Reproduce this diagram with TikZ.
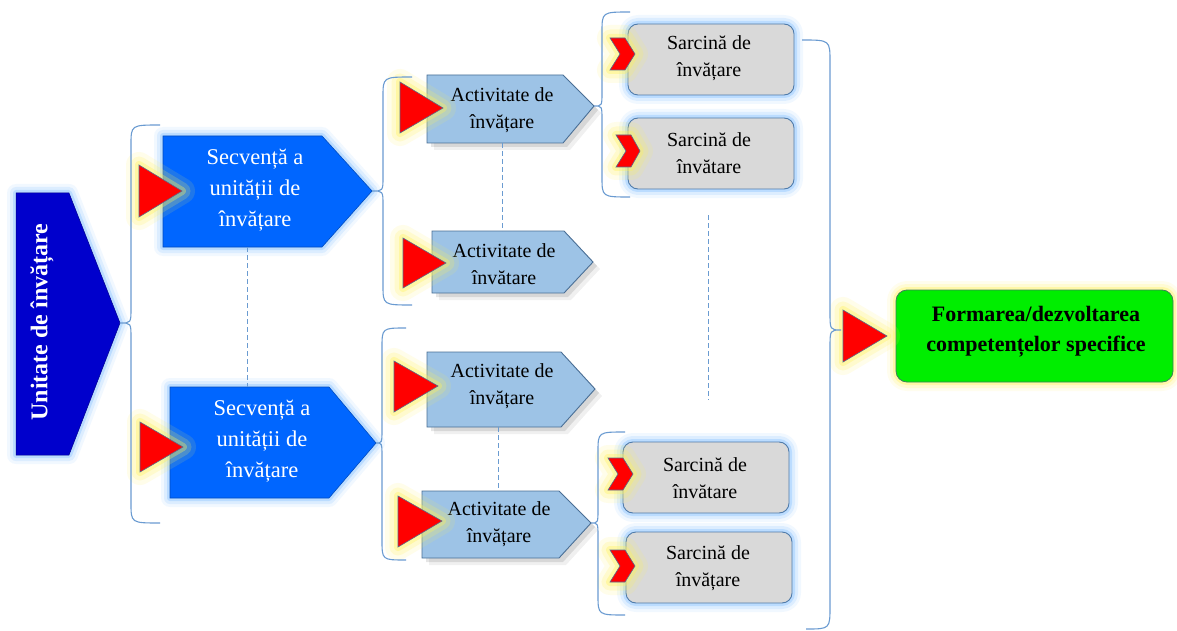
\documentclass[tikz,border=0pt]{standalone}
\usepackage{fontspec}
\setmainfont{Liberation Serif}
\definecolor{braceblue}{HTML}{6A9BD1}
\definecolor{glowblue}{HTML}{7FBFFF}
\definecolor{unitblue}{HTML}{0000CC}
\definecolor{secblue}{HTML}{0066FF}
\definecolor{actfill}{HTML}{9DC3E6}
\definecolor{actedge}{HTML}{4A6F96}
\definecolor{sarfill}{HTML}{D9D9D9}
\definecolor{saredge}{HTML}{4F7BAA}
\definecolor{formgreen}{HTML}{00EE00}
\definecolor{greenedge}{HTML}{3E7F5A}
\definecolor{triedge}{HTML}{5A6B8C}
\definecolor{glowyellow}{HTML}{FFF25A}
\begin{document}
\begin{tikzpicture}[x=1pt,y=-1pt,
  glow/.style={preaction={draw=#1,line width=18pt,opacity=0.10,line join=round},
               preaction={draw=#1,line width=12pt,opacity=0.18,line join=round},
               preaction={draw=#1,line width=6pt,opacity=0.35,line join=round}},
  yglow/.style={preaction={draw=#1,line width=26pt,opacity=0.12,line join=round},
               preaction={draw=#1,line width=17pt,opacity=0.20,line join=round},
               preaction={draw=#1,line width=8pt,opacity=0.35,line join=round}},
  shade/.style={preaction={fill=black,opacity=0.10,transform canvas={shift={(4pt,-4pt)}}},
                preaction={fill=black,opacity=0.06,transform canvas={shift={(7pt,-7pt)}}}},
  bracel/.style={draw=braceblue,line width=1.1pt},
  dashl/.style={draw=braceblue,line width=0.9pt,dash pattern=on 5pt off 3pt},
  redtri/.style={fill=red,draw=triedge,line width=0.6pt,line join=miter,yglow=glowyellow},
  unitbox/.style={fill=unitblue,draw=unitblue!70!black,line width=0.5pt,glow=glowblue},
  secbox/.style={fill=secblue,draw=secblue!75!black,line width=0.6pt,glow=glowblue},
  actbox/.style={fill=actfill,draw=actedge,line width=0.9pt,shade},
  sarbox/.style={fill=sarfill,draw=saredge,line width=0.9pt,rounded corners=10pt,glow=glowblue},
  formbox/.style={fill=formgreen,draw=greenedge,line width=0.8pt,rounded corners=11pt,glow=glowyellow},
  sectext/.style={text=white,align=center,font=\fontsize{22.5}{31}\selectfont},
  acttext/.style={text=black,align=center,font=\fontsize{20}{27}\selectfont},
  unittext/.style={text=white,rotate=90,font=\fontsize{24}{28}\selectfont\bfseries},
  formtext/.style={text=black,align=center,font=\fontsize{22}{30}\selectfont\bfseries}]
\fill[white] (0,0) rectangle (1177,631);
\useasboundingbox (0,0) rectangle (1177,631);

% ---------- coordinates (tips and ends) ----------
\coordinate (uTip) at (120,323);
\coordinate (s1Tip) at (372,191);
\coordinate (s2Tip) at (376,443);
\coordinate (a1Tip) at (594,106);
\coordinate (a4Tip) at (591,523);
\coordinate (fCusp) at (841,330);

% ---------- Unitate de invatare ----------
\draw[unitbox] (16,193) -- (69,193) -- (uTip) -- (69,455) -- (16,455) -- cycle;
\node[unittext] (unit) at (42,322) {Unitate de învățare};

% ---------- Secvente ----------
\draw[secbox] (163,136) -- (322,136) -- (s1Tip) -- (322,247) -- (163,247) -- cycle;
\node[sectext] (sec1) at (255,190) {Secvență a\\unității de\\învățare};
\draw[secbox] (170,387) -- (329,387) -- (s2Tip) -- (329,498) -- (170,498) -- cycle;
\node[sectext] (sec2) at (262,441) {Secvență a\\unității de\\învățare};
\draw[redtri] (139,165) -- (182,191) -- (139,217) -- cycle;
\draw[redtri] (140,422) -- (183,447) -- (140,472) -- cycle;
\coordinate (sec1b) at (247,247);
\coordinate (sec2t) at (247,387);
\draw[dashl] (sec1b) -- (sec2t);

% ---------- Activitati ----------
\draw[actbox] (427,75) -- (563,75) -- (a1Tip) -- (563,143) -- (427,143) -- cycle;
\node[acttext] (act1) at (502,110) {Activitate de\\învățare};
\draw[actbox] (432,231) -- (564,231) -- (593,262) -- (564,293) -- (432,293) -- cycle;
\node[acttext] (act2) at (504,264) {Activitate de\\învătare};
\draw[actbox] (427,352) -- (561,352) -- (595,389) -- (561,427) -- (427,427) -- cycle;
\node[acttext] (act3) at (502,386) {Activitate de\\învățare};
\draw[actbox] (422,491) -- (559,491) -- (a4Tip) -- (559,558) -- (422,558) -- cycle;
\node[acttext] (act4) at (499,524) {Activitate de\\învățare};
\draw[redtri] (400,82) -- (443,108) -- (400,133) -- cycle;
\draw[redtri] (403,238) -- (446,263) -- (403,288) -- cycle;
\draw[redtri] (394,361) -- (438,386) -- (394,412) -- cycle;
\draw[redtri] (398,496) -- (442,521) -- (398,547) -- cycle;
\coordinate (act1b) at (502,143);
\coordinate (act2t) at (502,231);
\coordinate (act3b) at (498,427);
\coordinate (act4t) at (498,491);
\draw[dashl] (act1b) -- (act2t);
\draw[dashl] (act3b) -- (act4t);

% ---------- Sarcini ----------
\draw[sarbox] (628,24) rectangle (794,95);
\node[acttext] (sar1) at (709,58) {Sarcină de\\învățare};
\draw[sarbox] (628,118) rectangle (794,189);
\node[acttext] (sar2) at (709,153) {Sarcină de\\învătare};
\draw[sarbox] (623,442) rectangle (789,513);
\node[acttext] (sar3) at (705,478) {Sarcină de\\învătare};
\draw[sarbox] (626,532) rectangle (792,603);
\node[acttext] (sar4) at (708,568) {Sarcină de\\învățare};
\draw[redtri] (610,38) -- (625,38) -- (635,54) -- (625,70) -- (610,70) -- (620,54) -- cycle;
\draw[redtri] (616,135) -- (631,135) -- (640,151) -- (631,167) -- (616,167) -- (626,151) -- cycle;
\draw[redtri] (608,458) -- (623,458) -- (633,474) -- (623,490) -- (608,490) -- (618,474) -- cycle;
\draw[redtri] (610,550) -- (625,550) -- (635,566) -- (625,582) -- (610,582) -- (620,566) -- cycle;
\coordinate (sarDt) at (708,215);
\coordinate (sarDb) at (708,400);
\draw[dashl] (sarDt) -- (sarDb);

% ---------- Formarea ----------
\draw[formbox] (896,290) rectangle (1173,382);
\node[formtext] (form) at (1036,332) {Formarea/dezvoltarea\\competențelor specifice};
\draw[redtri] (843,310) -- (887,336) -- (843,362) -- cycle;

% ---------- braces ----------
\draw[bracel] (160,125) .. controls (131,125) .. (131,145) -- (131,308)
  .. controls (131,323) .. (uTip) .. controls (131,323) .. (131,338) -- (131,503)
  .. controls (131,523) .. (160,523);
\draw[bracel] (412,77) .. controls (383,77) .. (383,97) -- (383,177)
  .. controls (383,191) .. (s1Tip) .. controls (383,191) .. (383,205) -- (383,285)
  .. controls (383,305) .. (412,305);
\draw[bracel] (406,328) .. controls (382,328) .. (382,348) -- (382,429)
  .. controls (382,443) .. (s2Tip) .. controls (382,443) .. (382,457) -- (382,540)
  .. controls (382,560) .. (406,560);
\draw[bracel] (630,12) .. controls (602,12) .. (602,32) -- (602,92)
  .. controls (602,106) .. (a1Tip) .. controls (602,106) .. (602,120) -- (602,177)
  .. controls (602,197) .. (630,197);
\draw[bracel] (625,432) .. controls (598,432) .. (598,452) -- (598,509)
  .. controls (598,523) .. (a4Tip) .. controls (598,523) .. (598,537) -- (598,595)
  .. controls (598,615) .. (625,615);
\draw[bracel] (802,40) .. controls (830,40) .. (830,62) -- (830,312)
  .. controls (830,330) .. (fCusp) .. controls (830,330) .. (830,348) -- (830,606)
  .. controls (830,629) .. (806,629);
\end{tikzpicture}
\end{document}
